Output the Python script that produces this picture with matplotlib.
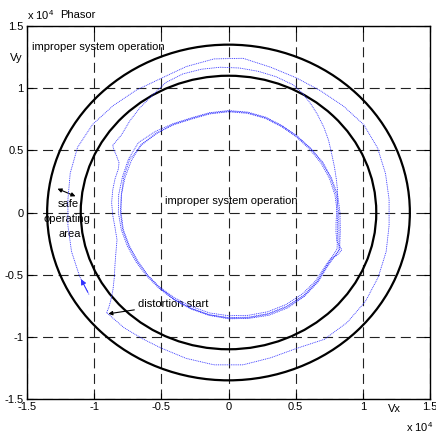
import numpy as np
import matplotlib
matplotlib.use("Agg")
import matplotlib.pyplot as plt
from matplotlib.patches import Circle

plt.rcParams['font.family'] = ['Liberation Sans', 'DejaVu Sans']
plt.rcParams['mathtext.fontset'] = 'custom'
plt.rcParams['mathtext.rm'] = 'Liberation Sans'
plt.rcParams['mathtext.it'] = 'Liberation Sans'

# ---- data (units of 10^4) ----
limit_radii = [1.1, 1.35]
tick_vals = [-1.5, -1, -0.5, 0, 0.5, 1, 1.5]
tick_labels = ["-1.5", "-1", "-0.5", "0", "0.5", "1", "1.5"]

# outer excursion (polar: degrees, radius)
outer_ang = [212.4, 205, 195, 185, 175, 165, 155, 145, 135, 125, 115, 105, 95, 85, 75,
             65, 55, 45, 35, 25, 15, 5, -5, -15, -25, -35, -45, -55, -65, -75, -85,
             -95, -105, -115, -122, -130, -138.4]
outer_r = [1.23, 1.222, 1.21, 1.2, 1.2, 1.22, 1.24, 1.235, 1.215, 1.2, 1.19, 1.215,
           1.24, 1.245, 1.21, 1.195, 1.195, 1.21, 1.23, 1.225, 1.21, 1.2, 1.2, 1.215,
           1.23, 1.245, 1.25, 1.245, 1.205, 1.21, 1.23, 1.23, 1.215, 1.2, 1.2, 1.21, 1.213]

# distortion: climb along the left side (x, y)
climb_x = [-0.907, -0.89, -0.875, -0.86, -0.85, -0.845, -0.838, -0.83, -0.845, -0.862,
           -0.87, -0.862, -0.845, -0.82, -0.815, -0.835, -0.855, -0.862]
climb_y = [-0.806, -0.76, -0.70, -0.62, -0.52, -0.42, -0.32, -0.22, -0.12, -0.02,
           0.08, 0.18, 0.27, 0.35, 0.40, 0.46, 0.51, 0.54]

# second arc back into the inner orbit (polar)
arc2_ang = [147.9, 142, 135, 128, 121, 114, 107, 100, 93, 86, 79, 72, 65, 60, 55, 50,
            44, 38, 32, 25, 18, 12, 6, 0, -6, -11, -16, -19.6, -23, -26, -30]
arc2_r = [1.017, 1.012, 1.04, 1.07, 1.10, 1.145, 1.165, 1.17, 1.17, 1.165, 1.157, 1.148,
          1.134, 1.105, 1.067, 1.03, 0.987, 0.945, 0.904, 0.87, 0.845, 0.83, 0.815, 0.805,
          0.805, 0.815, 0.839, 0.895, 0.88, 0.845, 0.84]

# inner orbits (polar, clockwise from -30 deg)
loop_ang = [-30, -40, -50, -60, -70, -80, -90, -100, -110, -120, -130, -140, -150,
            -160, -170, -180, -190, -200, -210, -220, -230, -240, -250, -260, -270,
            -280, -290, -300, -310, -320, -330, -340, -350, -360, -370, -380, -390]
loop1_r = [0.84, 0.85, 0.855, 0.855, 0.85, 0.84, 0.83, 0.82, 0.805, 0.795, 0.79, 0.785,
           0.785, 0.79, 0.80, 0.805, 0.81, 0.82, 0.835, 0.85, 0.835, 0.815, 0.80, 0.805,
           0.81, 0.81, 0.805, 0.795, 0.79, 0.79, 0.795, 0.80, 0.805, 0.81, 0.825, 0.86, 0.845]
loop2_r = [0.845, 0.86, 0.87, 0.87, 0.865, 0.855, 0.845, 0.835, 0.82, 0.81, 0.80, 0.795,
           0.795, 0.80, 0.81, 0.82, 0.83, 0.84, 0.86, 0.875, 0.85, 0.825, 0.81, 0.815,
           0.82, 0.82, 0.815, 0.805, 0.80, 0.80, 0.805, 0.81, 0.815, 0.82, 0.835, 0.875, 0.855]
loop3_r = [0.855, 0.87, 0.88, 0.885, 0.88, 0.865, 0.855, 0.84, 0.825, 0.81, 0.795, 0.785,
           0.78, 0.785, 0.795, 0.80, 0.81, 0.83, 0.85, 0.845, 0.83, 0.82, 0.805, 0.81,
           0.815, 0.815, 0.81, 0.80, 0.795, 0.80, 0.81, 0.815, 0.825, 0.83, 0.845, 0.88, 0.85]
loop4_r = [0.85, 0.865, 0.875, 0.875, 0.87, 0.86, 0.85, 0.835, 0.82, 0.805, 0.79]


def polar(ang, r):
    a = np.radians(np.asarray(ang, float))
    r = np.asarray(r, float)
    return r * np.cos(a), r * np.sin(a)


W, H = 436, 432
fig = plt.figure(figsize=(W / 100, H / 100), dpi=100)
ax = fig.add_axes([27 / W, 1 - 399 / H, (430 - 27) / W, (399 - 26) / H])

ax.set_xlim(-1.5, 1.5)
ax.set_ylim(-1.5, 1.5)
ax.set_xticks(tick_vals)
ax.set_yticks(tick_vals)
ax.set_xticklabels(tick_labels)
ax.set_yticklabels(tick_labels)
ax.grid(True, linestyle=(0, (9, 5)), color='#222222', lw=0.8)
ax.tick_params(direction='in', top=True, right=True, length=4, width=0.8,
               labelsize=8, pad=2.5)
for s in ax.spines.values():
    s.set_linewidth(1.0)

# limit circles
for rad in limit_radii:
    ax.add_patch(Circle((0, 0), rad, fill=False, ec='black', lw=1.6, zorder=3))

# trajectory
blue = '#3030ff'
kw = dict(color=blue, lw=0.6, ls=(0, (1.2, 1.0)), zorder=4)
ox, oy = polar(outer_ang, outer_r)
ax.plot(ox, oy, **kw)
ax.plot(climb_x, climb_y, **kw)
a2x, a2y = polar(arc2_ang, arc2_r)
ax.plot(a2x, a2y, **kw)
for lr in [loop1_r, loop2_r, loop3_r]:
    lx, ly = polar(loop_ang, lr)
    ax.plot(lx, ly, **kw)
l4x, l4y = polar(loop_ang[:len(loop4_r)], loop4_r)
ax.plot(l4x, l4y, **kw)

# direction arrow on the trajectory
ax.annotate('', xy=(ox[1], oy[1]), xytext=(ox[0], oy[0]),
            arrowprops=dict(arrowstyle='-|>', color=blue, lw=0.7, mutation_scale=8),
            zorder=5)

# annotations inside axes
ax.text(-1.46, 1.33, 'improper system operation', fontsize=8, va='center', ha='left')
ax.text(-0.47, 0.09, 'improper system operation', fontsize=8, va='center', ha='left')
ax.text(-1.19, 0.07, 'safe', fontsize=8, va='center', ha='center')
ax.text(-1.2, -0.05, 'operating', fontsize=8, va='center', ha='center')
ax.text(-1.18, -0.17, 'area', fontsize=8, va='center', ha='center')
ax.annotate('', xy=(-1.292, 0.2), xytext=(-1.12, 0.122),
            arrowprops=dict(arrowstyle='<|-|>', color='black', lw=0.8, mutation_scale=6))
ax.annotate('distortion start', xy=(-0.895, -0.815), xytext=(-0.67, -0.735),
            fontsize=8, va='center', ha='left',
            arrowprops=dict(arrowstyle='-|>', color='black', lw=0.8, mutation_scale=6,
                            shrinkA=1, shrinkB=0))

# texts outside axes
fig.text(27 / W, 1 - 15 / H, r'x 10$^4$', fontsize=8, va='center', ha='left')
fig.text(60 / W, 1 - 15 / H, 'Phasor', fontsize=8, va='center', ha='left')
fig.text(10 / W, 1 - 58 / H, 'Vy', fontsize=8, va='center', ha='left')
fig.text(388 / W, 1 - 409 / H, 'Vx', fontsize=8, va='center', ha='left')
fig.text(406 / W, 1 - 427 / H, r'x 10$^4$', fontsize=8, va='center', ha='left')

fig.savefig('out.png', dpi=100)
